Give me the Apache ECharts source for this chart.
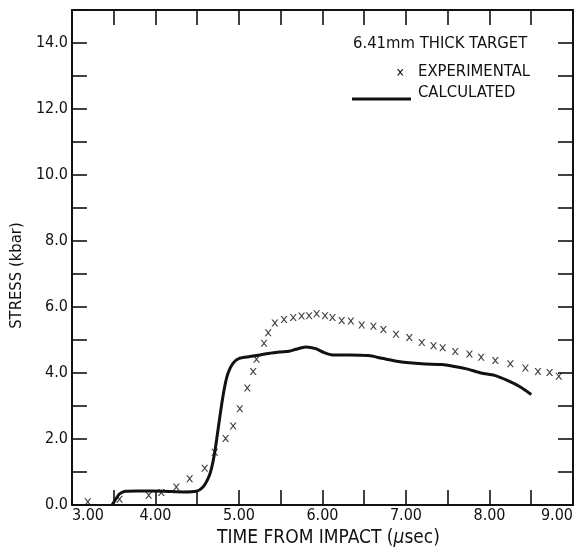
<!DOCTYPE html>
<html>
<head>
<meta charset="utf-8">
<script src="https://cdn.jsdelivr.net/npm/echarts@6/dist/echarts.min.js"></script>
<style>
html,body{margin:0;padding:0;background:#fff;}
#chart{width:581px;height:553px;}
</style>
</head>
<body>
<div id="chart"></div>
<script>
// Experimental measurements: time (µsec), stress (kbar)
var expTime = [3.19,3.57,3.92,4.07,4.25,4.41,4.59,4.71,4.84,4.93,5.01,5.10,5.17,5.21,5.30,5.35,5.43,5.54,5.65,5.75,5.84,5.93,6.03,6.12,6.23,6.34,6.47,6.61,6.73,6.88,7.04,7.19,7.33,7.44,7.59,7.76,7.90,8.07,8.25,8.43,8.58,8.72,8.83];
var expStress = [0.10,0.18,0.30,0.38,0.55,0.80,1.12,1.60,2.02,2.40,2.92,3.55,4.05,4.42,4.90,5.22,5.52,5.62,5.68,5.73,5.74,5.80,5.74,5.68,5.59,5.58,5.46,5.42,5.32,5.18,5.08,4.93,4.83,4.77,4.65,4.58,4.48,4.38,4.28,4.15,4.05,4.02,3.90];
// Calculated curve
var calcTime = [3.48,3.53,3.57,3.64,3.78,4.10,4.34,4.49,4.57,4.63,4.67,4.71,4.75,4.79,4.83,4.87,4.93,5.01,5.13,5.25,5.37,5.48,5.60,5.68,5.80,5.92,6.02,6.12,6.32,6.55,6.71,6.91,7.19,7.43,7.58,7.74,7.90,8.06,8.22,8.37,8.50];
var calcStress = [0.00,0.20,0.34,0.42,0.43,0.42,0.40,0.42,0.55,0.80,1.10,1.60,2.30,3.00,3.60,4.00,4.30,4.45,4.50,4.55,4.60,4.64,4.66,4.72,4.79,4.74,4.62,4.55,4.55,4.53,4.45,4.35,4.28,4.26,4.20,4.12,4.00,3.93,3.77,3.58,3.35];
// Axis settings
var xMin = 3, xMax = 9, xStep = 0.5;
var yMin = 0, yMax = 15, yStep = 1;
var legendTitle = '6.41mm THICK TARGET';
var expName = 'EXPERIMENTAL';
var calcName = 'CALCULATED';

var FONT = "'DejaVu Sans Condensed', 'Liberation Sans Narrow', sans-serif";
var INK = '#111';

function pairs(a, b) { return a.map(function (v, i) { return [v, b[i]]; }); }

var xMark = 'path://M0,0 L2,0 L5,3.6 L8,0 L10,0 L6,5 L10,10 L8,10 L5,6.4 L2,10 L0,10 L4,5 Z';
var xPoly = [[0,0],[2,0],[5,3.6],[8,0],[10,0],[6,5],[10,10],[8,10],[5,6.4],[2,10],[0,10],[4,5]];

var axisCommon = {
  axisLine: { show: true, onZero: false, lineStyle: { color: INK, width: 2 } },
  axisTick: { show: true, inside: true, length: 15, lineStyle: { color: INK, width: 1.6 } },
  splitLine: { show: false }
};

var chart = echarts.init(document.getElementById('chart'), null, { renderer: 'canvas' });
chart.setOption({
  backgroundColor: '#fff',
  animation: false,
  grid: { left: 67, right: 8, top: 10, bottom: 43, containLabel: false },
  xAxis: [
    Object.assign({}, axisCommon, {
      type: 'value', position: 'bottom', min: xMin, max: xMax, interval: xStep,
      name: 'TIME FROM IMPACT ({i|\u03bc}sec)', nameLocation: 'middle', nameGap: 23,
      nameTextStyle: { color: INK, fontFamily: FONT, fontSize: 19, padding: [0, 0, 0, 12],
        rich: { i: { fontStyle: 'italic', fontFamily: FONT, fontSize: 19, color: INK } } },
      axisLabel: {
        color: INK, fontFamily: FONT, fontSize: 16, margin: 3,
        alignMinLabel: 'left', alignMaxLabel: 'right',
        formatter: function (v) { return Math.abs(v - Math.round(v)) < 1e-9 ? v.toFixed(2) : ''; }
      }
    }),
    Object.assign({}, axisCommon, {
      type: 'value', position: 'top', min: xMin, max: xMax, interval: xStep,
      axisLabel: { show: false }
    })
  ],
  yAxis: [
    Object.assign({}, axisCommon, {
      type: 'value', position: 'left', min: yMin, max: yMax, interval: yStep,
      name: 'STRESS (kbar)', nameLocation: 'middle', nameGap: 38,
      nameTextStyle: { color: INK, fontFamily: FONT, fontSize: 16.5, padding: [0, 36, 0, 0] },
      axisLabel: {
        color: INK, fontFamily: FONT, fontSize: 16, margin: 4,
        formatter: function (v) { return (Math.round(v) % 2 === 0) ? v.toFixed(1) : ''; }
      }
    }),
    Object.assign({}, axisCommon, {
      type: 'value', position: 'right', min: yMin, max: yMax, interval: yStep,
      axisLabel: { show: false }
    })
  ],
  series: [
    {
      name: expName, type: 'scatter', data: pairs(expTime, expStress),
      symbol: xMark, symbolSize: [7, 7],
      itemStyle: { color: INK }
    },
    {
      name: calcName, type: 'line', data: pairs(calcTime, calcStress),
      showSymbol: false, symbol: 'none', smooth: 0.25,
      lineStyle: { color: INK, width: 3 }
    }
  ],
  graphic: [
    { type: 'text', left: 353, top: 35, style: { text: legendTitle, fill: INK, font: '16.5px ' + FONT } },
    { type: 'text', left: 418, top: 63, style: { text: expName, fill: INK, font: '16.5px ' + FONT } },
    { type: 'polygon', left: 397, top: 69, shape: { points: xPoly.map(function (p) { return [p[0] * 0.65, p[1] * 0.65]; }) }, style: { fill: INK } },
    { type: 'text', left: 418, top: 84, style: { text: calcName, fill: INK, font: '16.5px ' + FONT } },
    { type: 'line', shape: { x1: 352, y1: 99, x2: 411, y2: 99 }, style: { stroke: INK, lineWidth: 3 } }
  ]
});
</script>
</body>
</html>
